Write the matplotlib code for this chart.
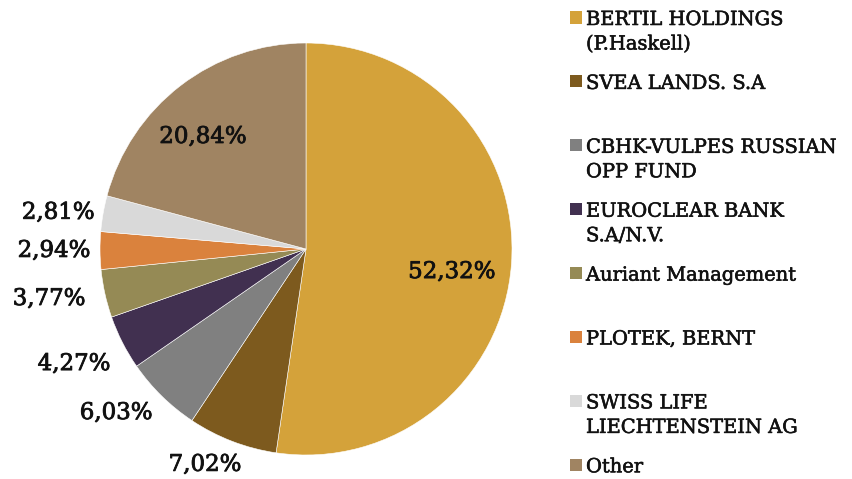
import matplotlib
matplotlib.use("Agg")
import matplotlib.pyplot as plt
import numpy as np
from matplotlib.patches import Rectangle
import matplotlib.patheffects as pe

categories = ["BERTIL HOLDINGS\n(P.Haskell)", "SVEA LANDS. S.A", "CBHK-VULPES RUSSIAN\nOPP FUND",
              "EUROCLEAR BANK\nS.A/N.V.", "Auriant Management", "PLOTEK, BERNT",
              "SWISS LIFE\nLIECHTENSTEIN AG", "Other"]
values = [52.32, 7.02, 6.03, 4.27, 3.77, 2.94, 2.81, 20.84]
value_labels = ["52,32%", "7,02%", "6,03%", "4,27%", "3,77%", "2,94%", "2,81%", "20,84%"]
colors = ["#D4A23A", "#7D5A1E", "#808080", "#413050", "#958A55", "#DA823D", "#D9D9D9", "#A08462"]
# label placement: radial distance (in radii) and angular offset (deg) from wedge bisector
label_dist = [0.717, 1.157, 1.218, 1.257, 1.271, 1.223, 1.216, 0.739]
label_dang = [-4.8, -4.1, -4.7, -0.6, -1.5, 0.0, 1.6, 5.1]

W, H = 852, 479
fig = plt.figure(figsize=(W / 100, H / 100), dpi=100)
ax = fig.add_axes([100 / W, (H - 455) / H, 412 / W, 412 / H])
wedges, _ = ax.pie(values, colors=colors, startangle=90, counterclock=False,
                   wedgeprops=dict(edgecolor="white", linewidth=0.4), radius=1.0)
ax.set_xlim(-1, 1)
ax.set_ylim(-1, 1)
ax.set_aspect("equal")

thick = [pe.withStroke(linewidth=0.6, foreground="#111111")]
for w, lab, d, da in zip(wedges, value_labels, label_dist, label_dang):
    ang = np.deg2rad((w.theta1 + w.theta2) / 2 + da)
    ax.text(d * np.cos(ang), d * np.sin(ang), lab, ha="center", va="center",
            fontsize=16.5, family="DejaVu Serif", color="#111111", path_effects=thick)

# legend
step = 63.9
thin = [pe.withStroke(linewidth=0.4, foreground="#111111")]
for i, (cat, col) in enumerate(zip(categories, colors)):
    yc = 17.5 + step * i
    fig.patches.append(Rectangle((570 / W, 1 - (yc + 6) / H), 12 / W, 12 / H,
                                 transform=fig.transFigure, facecolor=col, edgecolor="none"))
    for j, line in enumerate(cat.split("\n")):
        fig.text(586 / W, 1 - (yc + 7.5 + 24.5 * j) / H, line, ha="left", va="baseline",
                 fontsize=14, family="DejaVu Serif", color="#111111", path_effects=thin)

fig.savefig("out.png", dpi=100)
